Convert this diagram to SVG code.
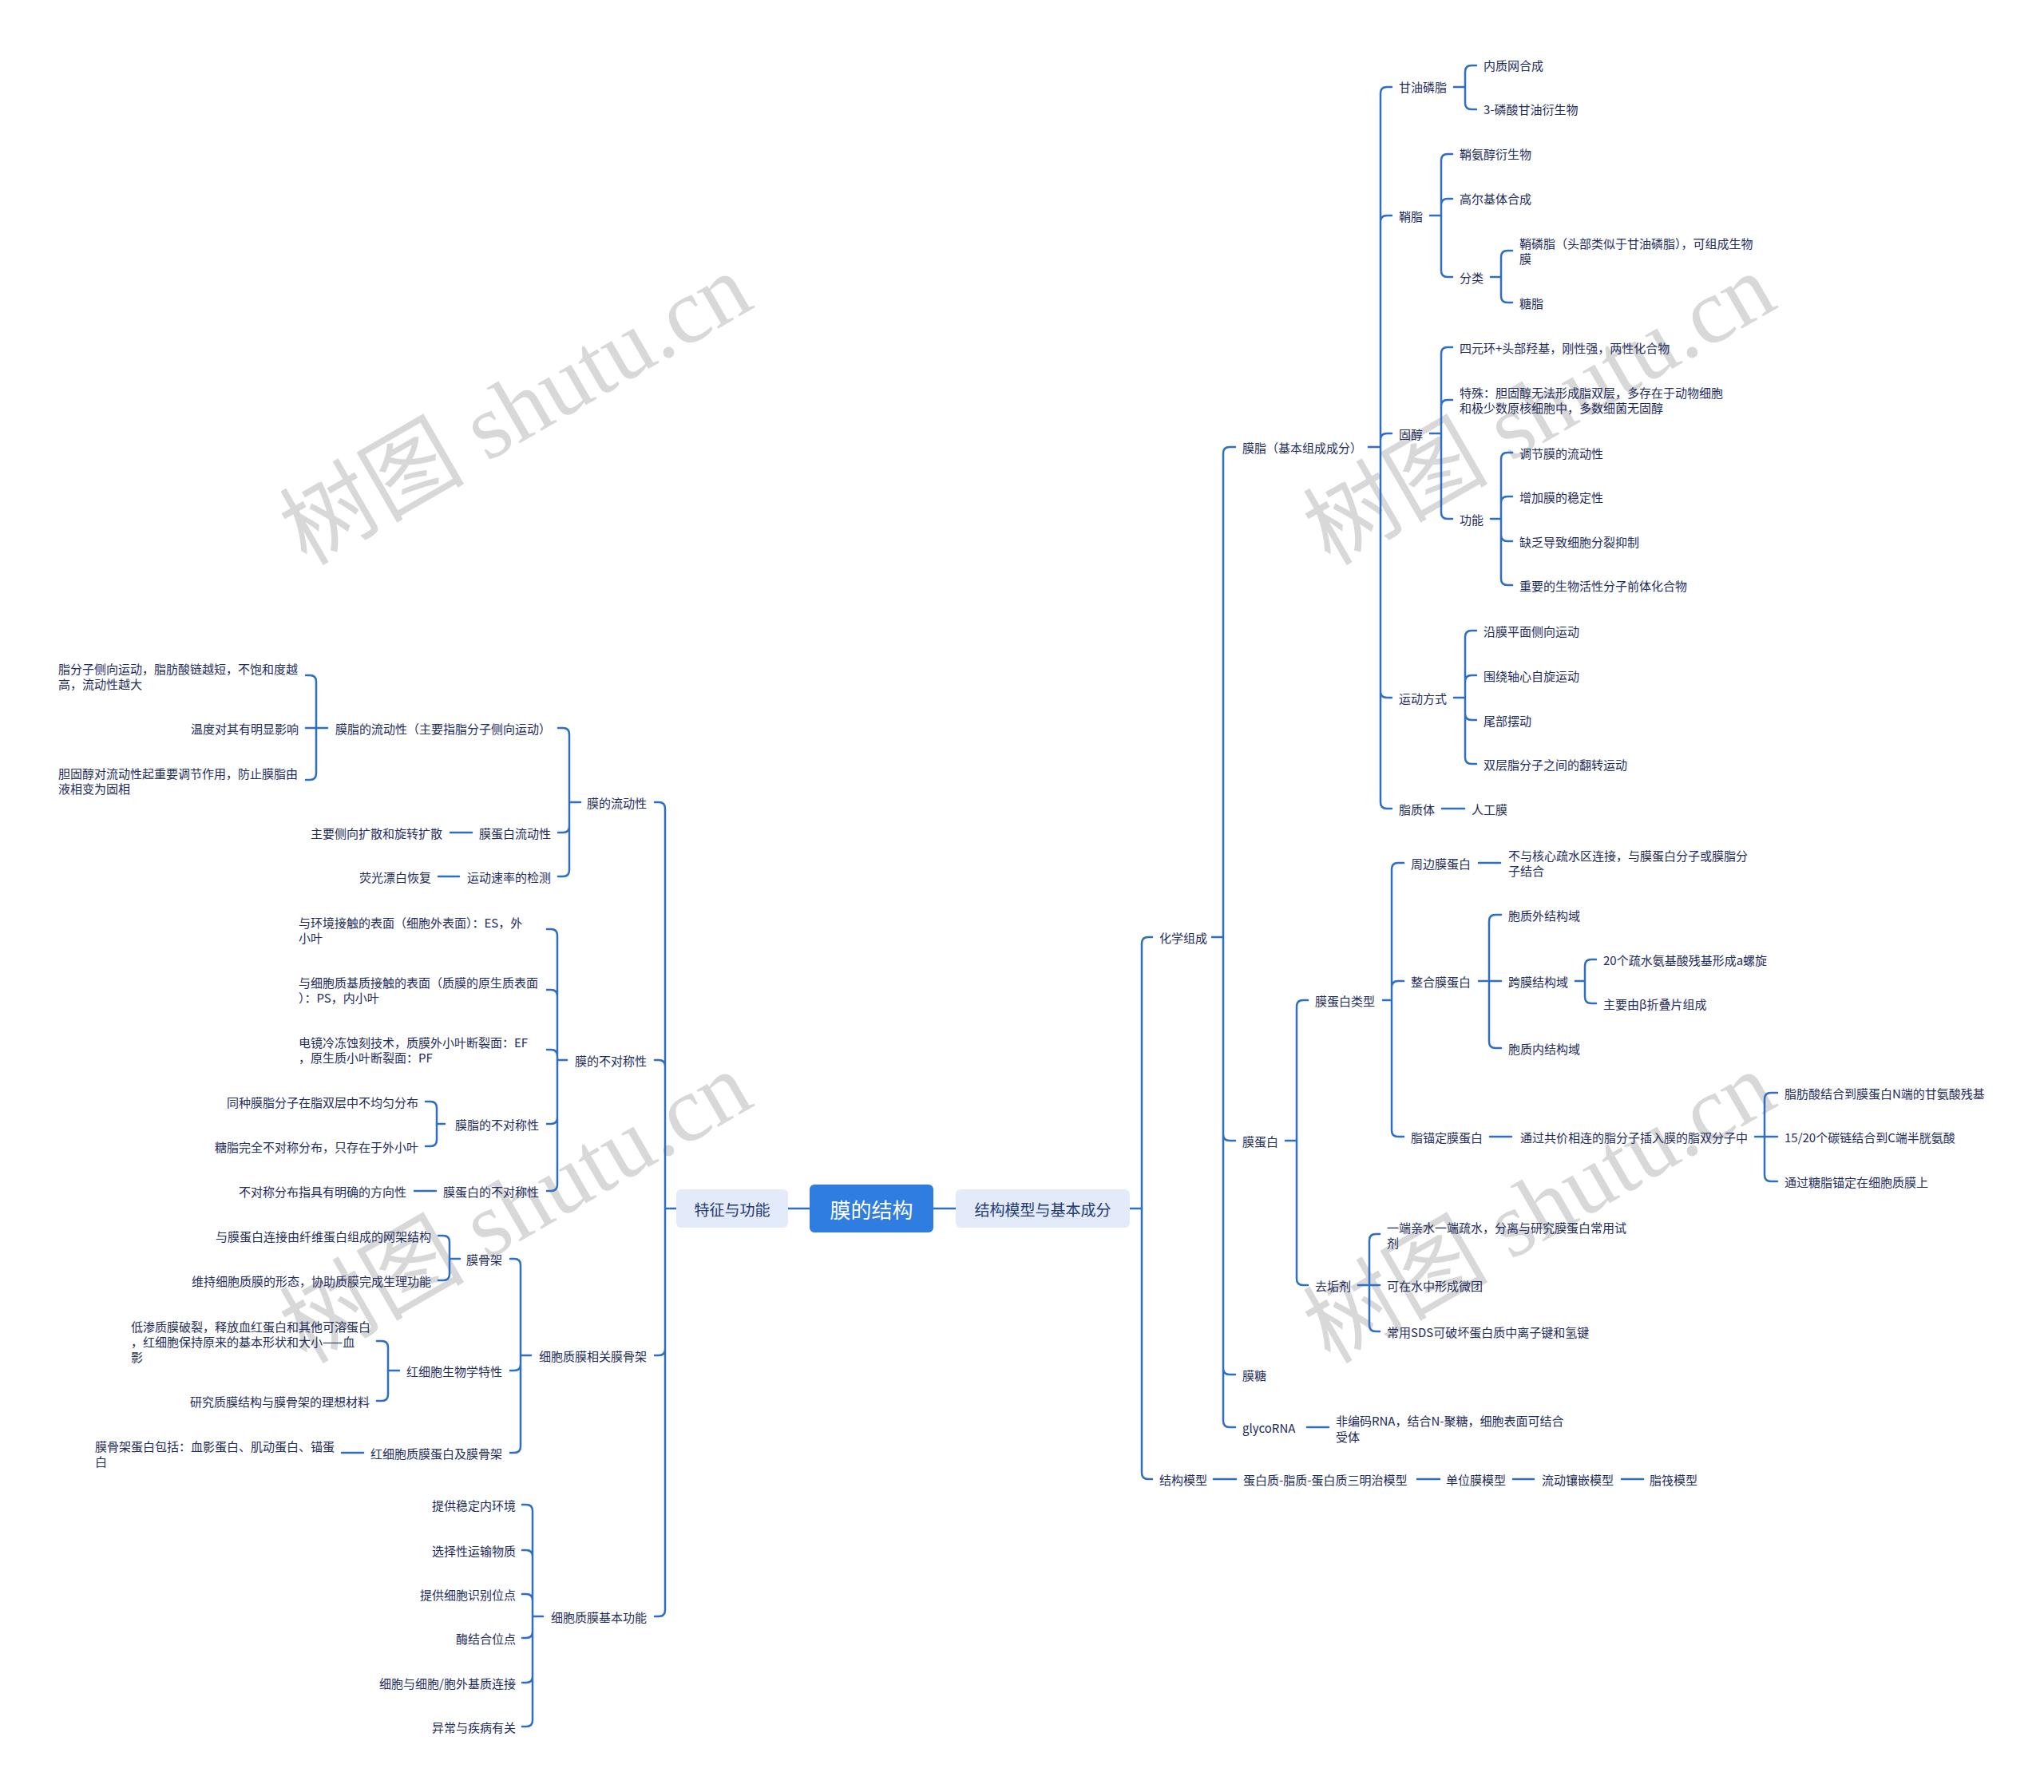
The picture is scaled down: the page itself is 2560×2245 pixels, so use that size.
<svg xmlns="http://www.w3.org/2000/svg" width="2560" height="2245" viewBox="0 0 2560 2245">
<style>
.t{font-family:"Noto Sans CJK SC","Liberation Sans",sans-serif;font-size:15px;fill:#1d2b5c;dominant-baseline:central}
.e{text-anchor:end}
.c{fill:none;stroke:#2e6ec4;stroke-width:2.5;stroke-linecap:round;stroke-linejoin:round}
.wm{font-family:"Liberation Serif","Noto Sans CJK SC",serif;font-size:116px;fill:#d8d8d8;text-anchor:middle;dominant-baseline:central}
.l1{fill:#e3eafa}
.l1t{font-family:"Noto Sans CJK SC","Liberation Sans",sans-serif;font-size:19px;fill:#22396f;text-anchor:middle;dominant-baseline:central}
</style>
<rect width="2560" height="2245" fill="#ffffff"/>
<g id="watermarks">
<text class="wm" transform="translate(646,513) rotate(-30)">树图 shutu.cn</text>
<text class="wm" transform="translate(1928,513) rotate(-30)">树图 shutu.cn</text>
<text class="wm" transform="translate(646,1513) rotate(-30)">树图 shutu.cn</text>
<text class="wm" transform="translate(1928,1513) rotate(-30)">树图 shutu.cn</text>
</g>
<g id="connectors">
<path class="c" d="M1169 1514 H1197 M987 1514 H1014"/>
<path class="c" d="M1415 1514 H1430 M1430 1514 V1182 Q1430 1174 1438 1174 H1443 M1430 1514 V1845 Q1430 1853 1438 1853 H1443"/>
<path class="c" d="M1518 1174 H1532 M1532 1174 V568 Q1532 560 1540 560 H1547 M1532 1174 V1421 Q1532 1429 1540 1429 H1547 M1532 1174 V1714 Q1532 1722 1540 1722 H1547 M1532 1174 V1780 Q1532 1788 1540 1788 H1547"/>
<path class="c" d="M1520 1853 H1548 M1775 1853 H1803 M1895 1853 H1921 M2031 1853 H2058"/>
<path class="c" d="M1714 560 H1729 M1729 560 V117 Q1729 109 1737 109 H1743 M1729 560 V278 Q1729 270 1737 270 H1743 M1729 560 V551 Q1729 543 1737 543 H1743 M1729 560 V866 Q1729 874 1737 874 H1743 M1729 560 V1005 Q1729 1013 1737 1013 H1743"/>
<path class="c" d="M1821 109 H1835 M1835 109 V90 Q1835 82 1843 82 H1849 M1835 109 V129 Q1835 137 1843 137 H1849"/>
<path class="c" d="M1791 270 H1805 M1805 270 V201 Q1805 193 1813 193 H1819 M1805 270 V257 Q1805 249 1813 249 H1819 M1805 270 V339 Q1805 347 1813 347 H1819"/>
<path class="c" d="M1867 347 H1880 M1880 347 V322 Q1880 314 1888 314 H1894 M1880 347 V371 Q1880 379 1888 379 H1894"/>
<path class="c" d="M1791 543 H1805 M1805 543 V443 Q1805 435 1813 435 H1819 M1805 543 V509 Q1805 501 1813 501 H1819 M1805 543 V642 Q1805 650 1813 650 H1819"/>
<path class="c" d="M1867 650 H1880 M1880 650 V575 Q1880 567 1888 567 H1894 M1880 650 V630 Q1880 622 1888 622 H1894 M1880 650 V670 Q1880 678 1888 678 H1894 M1880 650 V725 Q1880 733 1888 733 H1894"/>
<path class="c" d="M1821 874 H1835 M1835 874 V798 Q1835 790 1843 790 H1849 M1835 874 V854 Q1835 846 1843 846 H1849 M1835 874 V894 Q1835 902 1843 902 H1849 M1835 874 V949 Q1835 957 1843 957 H1849"/>
<path class="c" d="M1806 1013 H1834"/>
<path class="c" d="M1610 1429 H1624 M1624 1429 V1261 Q1624 1253 1632 1253 H1638 M1624 1429 V1602 Q1624 1610 1632 1610 H1638"/>
<path class="c" d="M1732 1253 H1743 M1743 1253 V1089 Q1743 1081 1751 1081 H1758 M1743 1253 V1237 Q1743 1229 1751 1229 H1758 M1743 1253 V1416 Q1743 1424 1751 1424 H1758"/>
<path class="c" d="M1852 1081 H1879"/>
<path class="c" d="M1852 1229 H1865 M1865 1229 V1154 Q1865 1146 1873 1146 H1880 M1865 1229 H1880 M1865 1229 V1305 Q1865 1313 1873 1313 H1880"/>
<path class="c" d="M1973 1229 H1985 M1985 1229 V1210 Q1985 1202 1993 1202 H1999 M1985 1229 V1249 Q1985 1257 1993 1257 H1999"/>
<path class="c" d="M1866 1424 H1893"/>
<path class="c" d="M2198 1424 H2210 M2210 1424 V1377 Q2210 1369 2218 1369 H2226 M2210 1424 H2226 M2210 1424 V1472 Q2210 1480 2218 1480 H2226"/>
<path class="c" d="M1701 1610 H1715 M1715 1610 V1554 Q1715 1546 1723 1546 H1728 M1715 1610 H1728 M1715 1610 V1660 Q1715 1668 1723 1668 H1728"/>
<path class="c" d="M1637 1788 H1664"/>
<path class="c" d="M847 1514 H833 M833 1514 V1013 Q833 1005 825 1005 H820 M833 1514 V1336 Q833 1328 825 1328 H820 M833 1514 V1690 Q833 1698 825 1698 H820 M833 1514 V2017 Q833 2025 825 2025 H820"/>
<path class="c" d="M727 1005 H713 M713 1005 V920 Q713 912 705 912 H699 M713 1005 V1035 Q713 1043 705 1043 H699 M713 1005 V1090 Q713 1098 705 1098 H699"/>
<path class="c" d="M410 912 H396 M396 912 V854 Q396 846 388 846 H383 M396 912 H383 M396 912 V969 Q396 977 388 977 H383"/>
<path class="c" d="M591 1043 H564 M575 1098 H549"/>
<path class="c" d="M710 1328 H698 M698 1328 V1172 Q698 1164 690 1164 H685 M698 1328 V1248 Q698 1240 690 1240 H685 M698 1328 V1323 Q698 1315 690 1315 H685 M698 1328 V1400 Q698 1408 690 1408 H685 M698 1328 V1484 Q698 1492 690 1492 H685"/>
<path class="c" d="M557 1408 H547 M547 1408 V1388 Q547 1380 539 1380 H533 M547 1408 V1428 Q547 1436 539 1436 H533"/>
<path class="c" d="M546 1492 H519"/>
<path class="c" d="M665 1698 H652 M652 1698 V1585 Q652 1577 644 1577 H639 M652 1698 V1709 Q652 1717 644 1717 H639 M652 1698 V1812 Q652 1820 644 1820 H639"/>
<path class="c" d="M576 1577 H563 M563 1577 V1556 Q563 1548 555 1548 H549 M563 1577 V1596 Q563 1604 555 1604 H549"/>
<path class="c" d="M500 1717 H486 M486 1717 V1688 Q486 1680 478 1680 H472 M486 1717 V1747 Q486 1755 478 1755 H472"/>
<path class="c" d="M455 1820 H428"/>
<path class="c" d="M680 2025 H667 M667 2025 V1893 Q667 1885 659 1885 H654 M667 2025 V1950 Q667 1942 659 1942 H654 M667 2025 V2005 Q667 1997 659 1997 H654 M667 2025 V2044 Q667 2052 659 2052 H654 M667 2025 V2100 Q667 2108 659 2108 H654 M667 2025 V2155 Q667 2163 659 2163 H654"/>
</g>
<g id="root"><rect x="1014" y="1484" width="155" height="60" rx="6" fill="#2f7de1"/><text x="1091.5" y="1514" font-family="Noto Sans CJK SC,sans-serif" font-size="26" fill="#ffffff" text-anchor="middle" dominant-baseline="central">膜的结构</text></g>
<g id="n-features"><rect class="l1" x="847" y="1490" width="140" height="48" rx="6"/><text class="l1t" x="917" y="1514">特征与功能</text></g>
<g id="n-model"><rect class="l1" x="1197" y="1490" width="218" height="48" rx="6"/><text class="l1t" x="1306" y="1514">结构模型与基本成分</text></g>
<g id="n-chem"><text class="t" x="1452" y="1174">化学组成</text></g>
<g id="n-smodel"><text class="t" x="1452" y="1853">结构模型</text></g>
<g id="n-sandwich"><text class="t" x="1557" y="1853">蛋白质-脂质-蛋白质三明治模型</text></g>
<g id="n-unit"><text class="t" x="1811" y="1853">单位膜模型</text></g>
<g id="n-fluid"><text class="t" x="1931" y="1853">流动镶嵌模型</text></g>
<g id="n-raft"><text class="t" x="2066" y="1853">脂筏模型</text></g>
<g id="n-lipid"><text class="t" x="1556" y="560">膜脂（基本组成成分）</text></g>
<g id="n-gly"><text class="t" x="1752" y="108">甘油磷脂</text></g>
<g id="n-gly1"><text class="t" x="1858" y="81">内质网合成</text></g>
<g id="n-gly2"><text class="t" x="1858" y="136">3-磷酸甘油衍生物</text></g>
<g id="n-sph"><text class="t" x="1752" y="270">鞘脂</text></g>
<g id="n-sph1"><text class="t" x="1828" y="192">鞘氨醇衍生物</text></g>
<g id="n-sph2"><text class="t" x="1828" y="248">高尔基体合成</text></g>
<g id="n-sph3"><text class="t" x="1828" y="347">分类</text></g>
<g id="n-sph31"><text class="t"><tspan x="1903" y="304">鞘磷脂（头部类似于甘油磷脂），可组成生物</tspan><tspan x="1903" y="323">膜</tspan></text></g>
<g id="n-sph32"><text class="t" x="1903" y="379">糖脂</text></g>
<g id="n-ster"><text class="t" x="1752" y="543">固醇</text></g>
<g id="n-ster1"><text class="t" x="1828" y="435">四元环+头部羟基，刚性强，两性化合物</text></g>
<g id="n-ster2"><text class="t"><tspan x="1828" y="491">特殊：胆固醇无法形成脂双层，多存在于动物细胞</tspan><tspan x="1828" y="510">和极少数原核细胞中，多数细菌无固醇</tspan></text></g>
<g id="n-ster3"><text class="t" x="1828" y="650">功能</text></g>
<g id="n-f1"><text class="t" x="1903" y="567">调节膜的流动性</text></g>
<g id="n-f2"><text class="t" x="1903" y="622">增加膜的稳定性</text></g>
<g id="n-f3"><text class="t" x="1903" y="678">缺乏导致细胞分裂抑制</text></g>
<g id="n-f4"><text class="t" x="1903" y="733">重要的生物活性分子前体化合物</text></g>
<g id="n-move"><text class="t" x="1752" y="874">运动方式</text></g>
<g id="n-m1"><text class="t" x="1858" y="790">沿膜平面侧向运动</text></g>
<g id="n-m2"><text class="t" x="1858" y="846">围绕轴心自旋运动</text></g>
<g id="n-m3"><text class="t" x="1858" y="902">尾部摆动</text></g>
<g id="n-m4"><text class="t" x="1858" y="957">双层脂分子之间的翻转运动</text></g>
<g id="n-lipo"><text class="t" x="1752" y="1013">脂质体</text></g>
<g id="n-art"><text class="t" x="1843" y="1013">人工膜</text></g>
<g id="n-prot"><text class="t" x="1556" y="1429">膜蛋白</text></g>
<g id="n-ptype"><text class="t" x="1647" y="1253">膜蛋白类型</text></g>
<g id="n-peri"><text class="t" x="1767" y="1081">周边膜蛋白</text></g>
<g id="n-peri1"><text class="t"><tspan x="1889" y="1071">不与核心疏水区连接，与膜蛋白分子或膜脂分</tspan><tspan x="1889" y="1090">子结合</tspan></text></g>
<g id="n-integ"><text class="t" x="1767" y="1229">整合膜蛋白</text></g>
<g id="n-i1"><text class="t" x="1889" y="1146">胞质外结构域</text></g>
<g id="n-i2"><text class="t" x="1889" y="1229">跨膜结构域</text></g>
<g id="n-i21"><text class="t" x="2008" y="1202">20个疏水氨基酸残基形成a螺旋</text></g>
<g id="n-i22"><text class="t" x="2008" y="1257">主要由β折叠片组成</text></g>
<g id="n-i3"><text class="t" x="1889" y="1313">胞质内结构域</text></g>
<g id="n-anch"><text class="t" x="1767" y="1424">脂锚定膜蛋白</text></g>
<g id="n-anch1"><text class="t" x="1904" y="1424">通过共价相连的脂分子插入膜的脂双分子中</text></g>
<g id="n-a1"><text class="t" x="2235" y="1369">脂肪酸结合到膜蛋白N端的甘氨酸残基</text></g>
<g id="n-a2"><text class="t" x="2235" y="1424">15/20个碳链结合到C端半胱氨酸</text></g>
<g id="n-a3"><text class="t" x="2235" y="1480">通过糖脂锚定在细胞质膜上</text></g>
<g id="n-det"><text class="t" x="1647" y="1610">去垢剂</text></g>
<g id="n-d1"><text class="t"><tspan x="1737" y="1537">一端亲水一端疏水，分离与研究膜蛋白常用试</tspan><tspan x="1737" y="1556">剂</tspan></text></g>
<g id="n-d2"><text class="t" x="1737" y="1610">可在水中形成微团</text></g>
<g id="n-d3"><text class="t" x="1737" y="1668">常用SDS可破坏蛋白质中离子键和氢键</text></g>
<g id="n-sugar"><text class="t" x="1556" y="1722">膜糖</text></g>
<g id="n-grna"><text class="t" x="1556" y="1788">glycoRNA</text></g>
<g id="n-grna1"><text class="t"><tspan x="1673" y="1779">非编码RNA，结合N-聚糖，细胞表面可结合</tspan><tspan x="1673" y="1799">受体</tspan></text></g>
<g id="n-flu"><text class="t e" x="810" y="1005">膜的流动性</text></g>
<g id="n-flu1"><text class="t e" x="690" y="912">膜脂的流动性（主要指脂分子侧向运动）</text></g>
<g id="n-flu11"><text class="t"><tspan x="73" y="837">脂分子侧向运动，脂肪酸链越短，不饱和度越</tspan><tspan x="73" y="856">高，流动性越大</tspan></text></g>
<g id="n-flu12"><text class="t e" x="374" y="912">温度对其有明显影响</text></g>
<g id="n-flu13"><text class="t"><tspan x="73" y="968">胆固醇对流动性起重要调节作用，防止膜脂由</tspan><tspan x="73" y="987">液相变为固相</tspan></text></g>
<g id="n-flu2"><text class="t e" x="690" y="1043">膜蛋白流动性</text></g>
<g id="n-flu21"><text class="t e" x="554" y="1043">主要侧向扩散和旋转扩散</text></g>
<g id="n-flu3"><text class="t e" x="690" y="1098">运动速率的检测</text></g>
<g id="n-flu31"><text class="t e" x="540" y="1098">荧光漂白恢复</text></g>
<g id="n-asym"><text class="t e" x="810" y="1328">膜的不对称性</text></g>
<g id="n-as1"><text class="t"><tspan x="374" y="1155">与环境接触的表面（细胞外表面）：ES，外</tspan><tspan x="374" y="1174">小叶</tspan></text></g>
<g id="n-as2"><text class="t"><tspan x="374" y="1230">与细胞质基质接触的表面（质膜的原生质表面</tspan><tspan x="374" y="1249">）：PS，内小叶</tspan></text></g>
<g id="n-as3"><text class="t"><tspan x="374" y="1305">电镜冷冻蚀刻技术，质膜外小叶断裂面：EF</tspan><tspan x="374" y="1324">，原生质小叶断裂面：PF</tspan></text></g>
<g id="n-as4"><text class="t e" x="675" y="1408">膜脂的不对称性</text></g>
<g id="n-as41"><text class="t e" x="524" y="1380">同种膜脂分子在脂双层中不均匀分布</text></g>
<g id="n-as42"><text class="t e" x="524" y="1436">糖脂完全不对称分布，只存在于外小叶</text></g>
<g id="n-as5"><text class="t e" x="675" y="1492">膜蛋白的不对称性</text></g>
<g id="n-as51"><text class="t e" x="509" y="1492">不对称分布指具有明确的方向性</text></g>
<g id="n-sk"><text class="t e" x="810" y="1698">细胞质膜相关膜骨架</text></g>
<g id="n-sk1"><text class="t e" x="629" y="1577">膜骨架</text></g>
<g id="n-sk11"><text class="t e" x="540" y="1548">与膜蛋白连接由纤维蛋白组成的网架结构</text></g>
<g id="n-sk12"><text class="t e" x="540" y="1604">维持细胞质膜的形态，协助质膜完成生理功能</text></g>
<g id="n-sk2"><text class="t e" x="629" y="1717">红细胞生物学特性</text></g>
<g id="n-sk21"><text class="t"><tspan x="164" y="1661">低渗质膜破裂，释放血红蛋白和其他可溶蛋白</tspan><tspan x="164" y="1680">，红细胞保持原来的基本形状和大小——血</tspan><tspan x="164" y="1699">影</tspan></text></g>
<g id="n-sk22"><text class="t e" x="463" y="1755">研究质膜结构与膜骨架的理想材料</text></g>
<g id="n-sk3"><text class="t e" x="629" y="1820">红细胞质膜蛋白及膜骨架</text></g>
<g id="n-sk31"><text class="t"><tspan x="119" y="1811">膜骨架蛋白包括：血影蛋白、肌动蛋白、锚蛋</tspan><tspan x="119" y="1830">白</tspan></text></g>
<g id="n-fn"><text class="t e" x="810" y="2025">细胞质膜基本功能</text></g>
<g id="n-fn1"><text class="t e" x="646" y="1885">提供稳定内环境</text></g>
<g id="n-fn2"><text class="t e" x="646" y="1942">选择性运输物质</text></g>
<g id="n-fn3"><text class="t e" x="646" y="1997">提供细胞识别位点</text></g>
<g id="n-fn4"><text class="t e" x="646" y="2052">酶结合位点</text></g>
<g id="n-fn5"><text class="t e" x="646" y="2108">细胞与细胞/胞外基质连接</text></g>
<g id="n-fn6"><text class="t e" x="646" y="2163">异常与疾病有关</text></g>
</svg>
